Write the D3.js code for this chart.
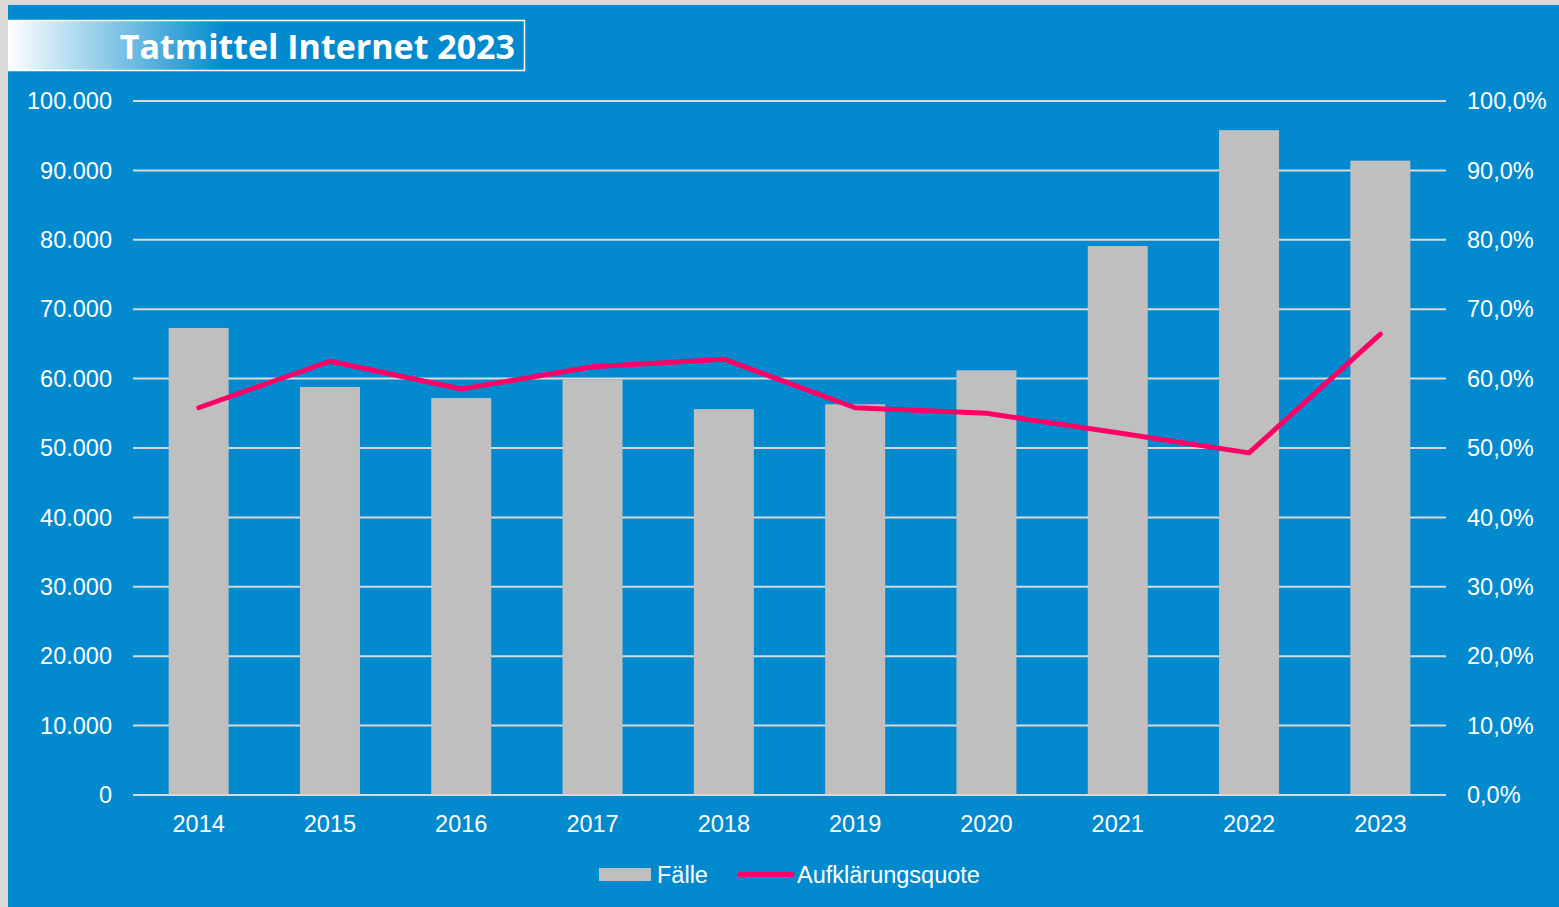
<!DOCTYPE html>
<html lang="de">
<head>
<meta charset="UTF-8">
<title>Tatmittel Internet 2023</title>
<script src="https://d3js.org/d3.v7.min.js"></script>
<style>
    body { margin: 0; background: #dadada; overflow: hidden; }
    svg text { font-family: "Liberation Sans", Arial, sans-serif; fill: #fff; }
</style>
</head>
<body>
<svg id="chart" width="1559" height="907"></svg>
<script>
// data
const years = ["2014", "2015", "2016", "2017", "2018", "2019", "2020", "2021", "2022", "2023"];
const faelle = [67300, 58800, 57200, 59900, 55600, 56300, 61200, 79100, 95800, 91400];
const quote = [55.8, 62.5, 58.5, 61.7, 62.8, 55.8, 55.0, 52.2, 49.3, 66.4];
const leftTicks = [0, 10000, 20000, 30000, 40000, 50000, 60000, 70000, 80000, 90000, 100000];
const rightTicks = [0, 10, 20, 30, 40, 50, 60, 70, 80, 90, 100];

const blue = "#038ace";
const fontSize = "23.5px";
const svg = d3.select("#chart");

// blue panel
svg.append("rect").attr("x", 8).attr("y", 5).attr("width", 1551).attr("height", 902).attr("fill", blue);

// title box with gradient
const defs = svg.append("defs");
const grad = defs.append("linearGradient").attr("id", "titleGrad")
    .attr("gradientUnits", "userSpaceOnUse").attr("x1", 8).attr("x2", 225).attr("y1", 0).attr("y2", 0);
grad.append("stop").attr("offset", "0%").attr("stop-color", "#ffffff");
grad.append("stop").attr("offset", "100%").attr("stop-color", blue);

svg.append("rect").attr("x", 8).attr("y", 20).attr("width", 516).attr("height", 51)
    .attr("fill", "url(#titleGrad)");
svg.append("path").attr("d", "M8,20.5H524.5V70.5H8")
    .attr("fill", "none").attr("stroke", "#fff").attr("stroke-width", 1.5);
svg.append("text").attr("x", 515).attr("y", 59).attr("text-anchor", "end")
    .style("font-family", "'Open Sans', 'Noto Sans', sans-serif")
    .style("font-weight", "700").style("font-size", "34px")
    .text("Tatmittel Internet 2023");

// scales
const plotLeft = 133, plotRight = 1446, plotTop = 101, plotBottom = 795;
const x = d3.scaleBand().domain(years).range([plotLeft, plotRight]).paddingInner(0.543).paddingOuter(0.2715);
const y = d3.scaleLinear().domain([0, 100000]).range([plotBottom, plotTop]);
const y2 = d3.scaleLinear().domain([0, 100]).range([plotBottom, plotTop]);

// gridlines
svg.append("g").selectAll("line").data(leftTicks).join("line")
    .attr("x1", plotLeft).attr("x2", plotRight)
    .attr("y1", d => y(d)).attr("y2", d => y(d))
    .attr("stroke", "#d9d9d9").attr("stroke-width", 2);

// bars
svg.append("g").selectAll("rect").data(faelle).join("rect")
    .attr("x", (d, i) => x(years[i]))
    .attr("width", x.bandwidth())
    .attr("y", d => y(d))
    .attr("height", d => plotBottom - y(d))
    .attr("fill", "#bfbfbf");

// axis line on top of bars
svg.append("line").attr("x1", plotLeft).attr("x2", plotRight).attr("y1", plotBottom).attr("y2", plotBottom)
    .attr("stroke", "#d9d9d9").attr("stroke-width", 2);

// left axis labels
const fmtLeft = d3.formatLocale({ decimal: ",", thousands: ".", grouping: [3], currency: ["", "€"] }).format(",");
svg.append("g").selectAll("text").data(leftTicks).join("text")
    .attr("x", 112).attr("y", d => y(d)).attr("dy", "0.35em")
    .attr("text-anchor", "end").style("font-size", fontSize)
    .text(d => fmtLeft(d));

// right axis labels
svg.append("g").selectAll("text").data(rightTicks).join("text")
    .attr("x", 1467).attr("y", d => y2(d)).attr("dy", "0.35em")
    .attr("text-anchor", "start").style("font-size", fontSize)
    .text(d => d.toFixed(1).replace(".", ",") + "%");

// x labels
svg.append("g").selectAll("text").data(years).join("text")
    .attr("x", d => x(d) + x.bandwidth() / 2).attr("y", 824).attr("dy", "0.35em")
    .attr("text-anchor", "middle").style("font-size", fontSize)
    .text(d => d);

// line
const line = d3.line()
    .x((d, i) => x(years[i]) + x.bandwidth() / 2)
    .y(d => y2(d));
svg.append("path").datum(quote)
    .attr("d", line)
    .attr("fill", "none").attr("stroke", "#ff0066").attr("stroke-width", 5)
    .attr("stroke-linecap", "round").attr("stroke-linejoin", "round");

// legend
const lg = svg.append("g");
lg.append("rect").attr("x", 599).attr("y", 868).attr("width", 52).attr("height", 13).attr("fill", "#bfbfbf");
lg.append("text").attr("x", 657).attr("y", 875).attr("dy", "0.35em").style("font-size", fontSize).text("Fälle");
lg.append("line").attr("x1", 740).attr("x2", 792).attr("y1", 874.5).attr("y2", 874.5)
    .attr("stroke", "#ff0066").attr("stroke-width", 5).attr("stroke-linecap", "round");
lg.append("text").attr("x", 797).attr("y", 875).attr("dy", "0.35em").style("font-size", fontSize).text("Aufklärungsquote");
</script>
</body>
</html>
